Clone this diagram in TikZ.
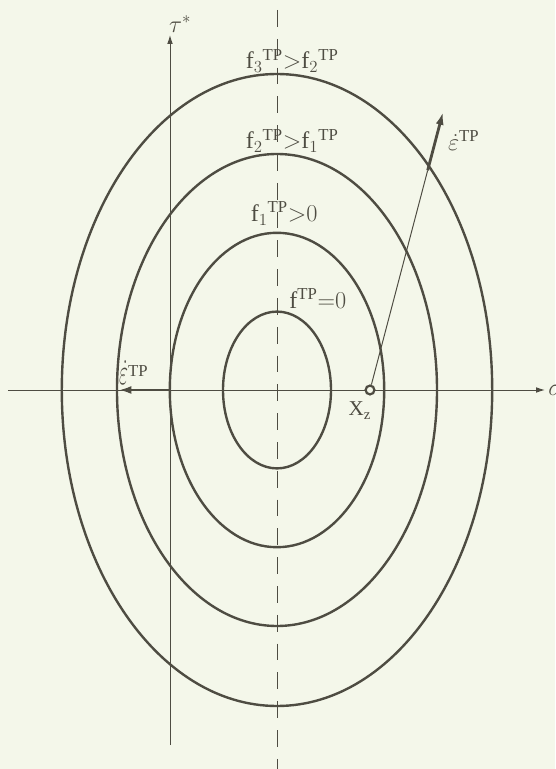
\documentclass[tikz,border=0pt]{standalone}
\usepackage{fontspec}
\setmainfont{Liberation Serif}
\usetikzlibrary{
  positioning,
  arrows.meta,
  shapes.geometric,
  calc
}
\definecolor{paper}{RGB}{244,247,234}
\definecolor{ink}{RGB}{78,76,66}
\tikzset{
  >=Latex,
  axis/.style={-{Latex[length=2.2mm,width=1.4mm]},line width=0.7pt,draw=ink},
  yield/.style={ellipse,draw=ink,line width=1.7pt,inner sep=0pt},
  strain/.style={-{Latex[length=3.2mm,width=2mm]},line width=2pt,draw=ink},
  lbl/.style={text=ink,font=\fontsize{17}{20}\selectfont,inner sep=0pt}
}
\newcommand{\TP}{{}^{\mathrm{TP}}}

\begin{document}
\begin{tikzpicture}
    \fill[paper] (-6.925,-9.475) rectangle (6.95,9.75);
    \useasboundingbox (-6.925,-9.475) rectangle (6.95,9.75);

    \coordinate (O) at (0,0);
    \coordinate (sL) at (-6.725,0);
    \coordinate (sR) at (6.7,0);
    \coordinate (tB) at (-2.675,-8.875);
    \coordinate (tT) at (-2.675,8.875);
    \coordinate (dT) at (0,9.5);
    \coordinate (dB) at (0,-9.5);

    % axes and the centre line
    \draw[axis] (sL) -- (sR);
    \draw[axis] (tB) -- (tT);
    \draw[ink,line width=0.7pt,dash pattern=on 0.42cm off 0.3cm] (dT) -- (dB);
    \node[lbl,anchor=west] (sig) at ($(sR)+(0.08,0)$) {$\sigma$};
    \node[lbl,anchor=south west] (tau) at ($(tT)+(-0.03,0.05)$) {$\tau^{*}$};

    % yield surfaces
    \node[yield,minimum width=2.7cm,minimum height=3.92cm] (f0) at (O) {};
    \node[yield,minimum width=5.36cm,minimum height=7.86cm] (f1) at (O) {};
    \node[yield,minimum width=8.0cm,minimum height=11.8cm] (f2) at (O) {};
    \node[yield,minimum width=10.76cm,minimum height=15.8cm] (f3) at (O) {};

    \node[lbl,above=0pt of f3.north,xshift=0.38cm] (l3) {$\mathrm{f}_3\TP{>}\mathrm{f}_2\TP$};
    \node[lbl,above=0pt of f2.north,xshift=0.38cm] (l2) {$\mathrm{f}_2\TP{>}\mathrm{f}_1\TP$};
    \node[lbl,above=0.15cm of f1.north,xshift=0.18cm] (l1) {$\mathrm{f}_1\TP{>}0$};
    \node[lbl,above=0.05cm of f0.north,xshift=1.02cm] (l0) {$\mathrm{f}\TP{=}0$};

    % strain rates
    \node[circle,draw=ink,fill=paper,line width=1.6pt,inner sep=0pt,minimum size=0.22cm] (xz) at (2.325,0) {};
    \node[lbl,font=\fontsize{15}{18}\selectfont,below left=0.2cm and -0.13cm of xz] (xzl) {X$_{\mathrm{z}}$};
    \coordinate (eT) at (4.15,6.95);
    \coordinate (eM) at ($(xz)!0.79!(eT)$);
    \draw[ink,line width=0.7pt] (xz) -- (eM);
    \draw[strain] (eM) -- (eT);
    \node[lbl,below right=0.45cm and 0.12cm of eT] (el) {$\dot{\varepsilon}\TP$};

    \draw[strain] (f1.west) -- ($(f2.west)+(0.07,0)$);
    \node[lbl,above left=0.12cm and 0.5cm of f1.west] (wl) {$\scalebox{0.8}[1.5]{$\dot{\varepsilon}$}\TP$};
\end{tikzpicture}
\end{document}
